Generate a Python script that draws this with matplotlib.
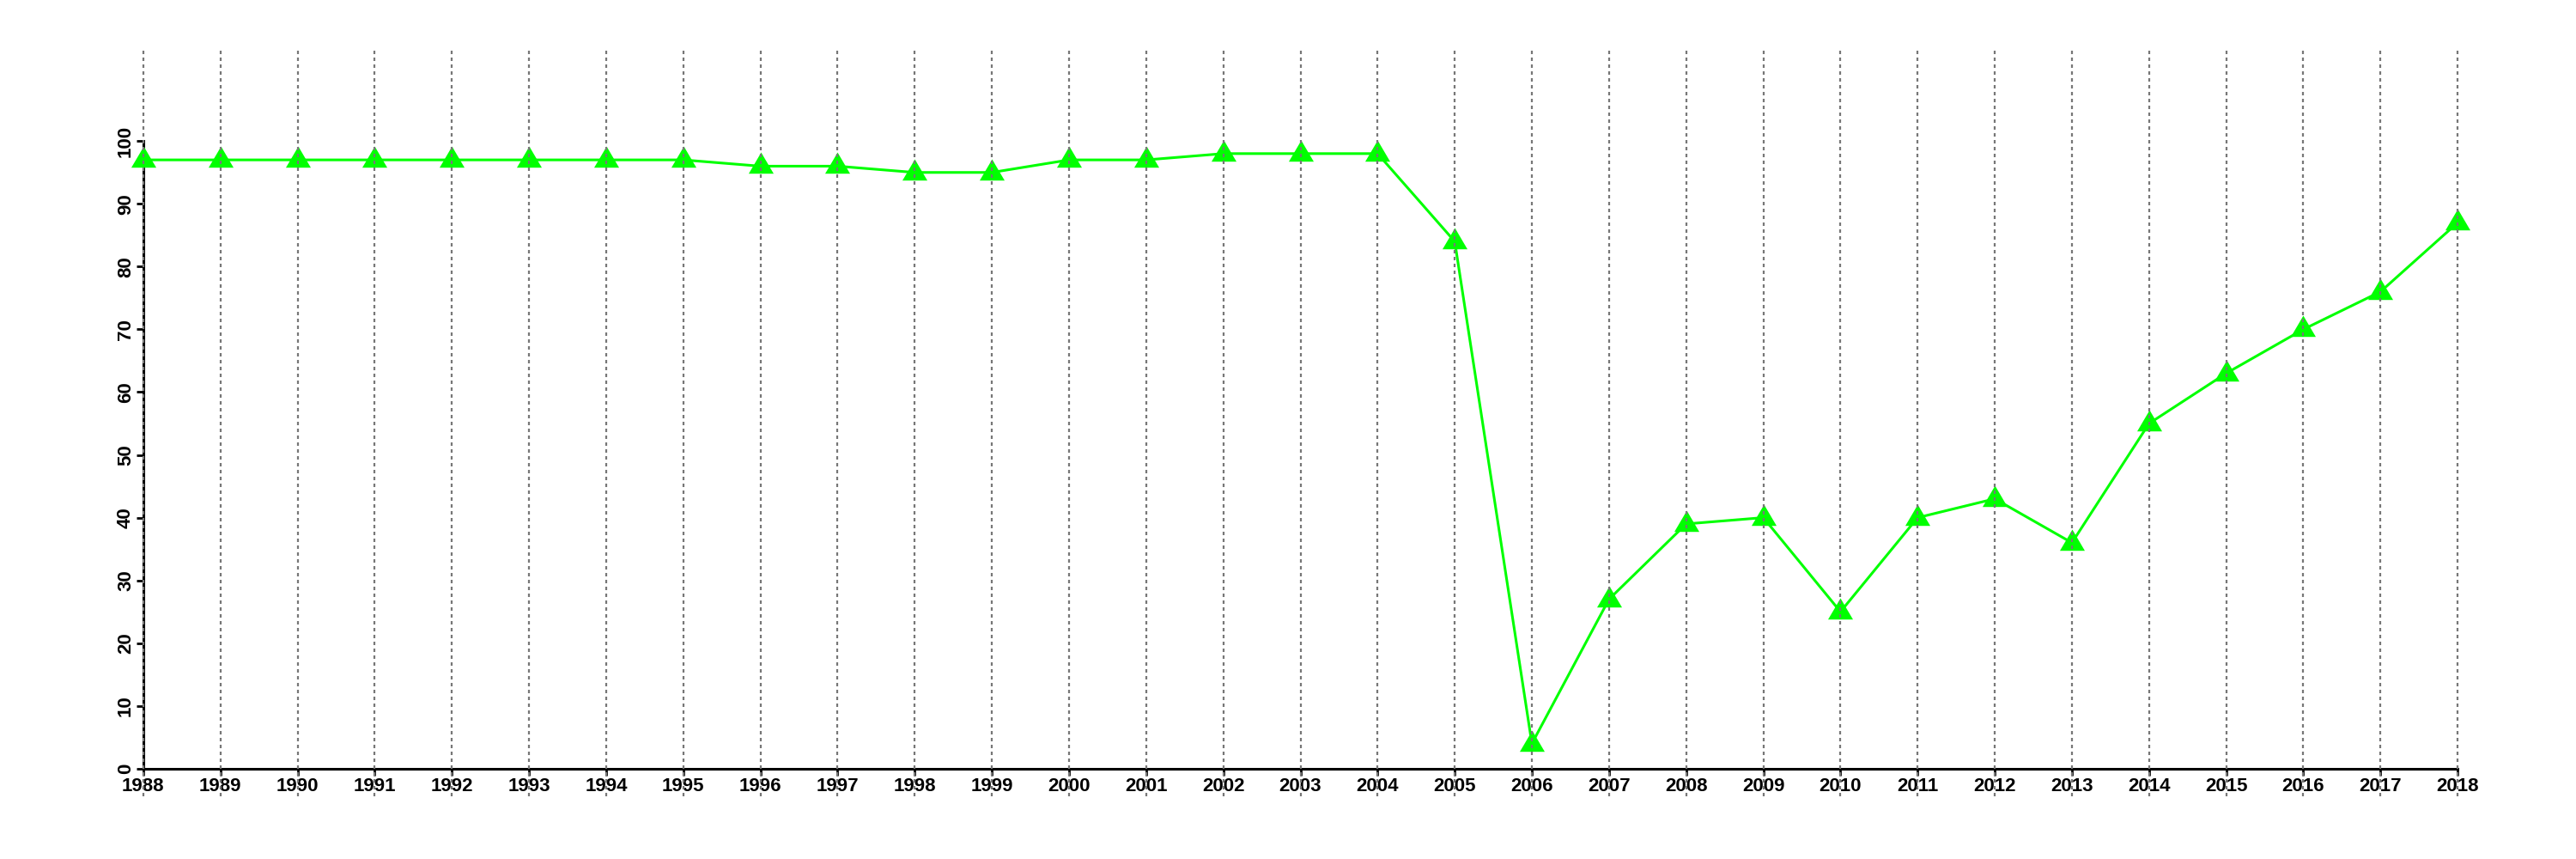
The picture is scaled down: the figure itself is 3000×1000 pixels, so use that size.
import matplotlib
matplotlib.use("Agg")
import matplotlib.pyplot as plt

years = list(range(1988, 2019))
values = [97, 97, 97, 97, 97, 97, 97, 97, 96, 96,
          95, 95, 97, 97, 98, 98, 98, 84, 4, 27,
          39, 40, 25, 40, 43, 36, 55, 63, 70, 76, 87]
yticks = list(range(0, 101, 10))

plt.rcParams['font.family'] = ['Liberation Sans', 'DejaVu Sans']

fig = plt.figure(figsize=(30, 10), dpi=100)
ax = fig.add_axes([59 / 3000, 73 / 1000, 2911 / 3000, 868 / 1000])

# R-like limits: range extended by 4 %
ax.set_xlim(1988 - 1.2, 2018 + 1.2)
ax.set_ylim(-4.4, 114.4)

# vertical dotted lines drawn over the points, as in the original
for yr in years:
    ax.axvline(yr, color='#777777', linestyle=(0, (1.8, 1.8)), linewidth=1.6, zorder=4)

# R style filled triangle (pch 17)
tri = [(-1, -0.6), (1, -0.6), (0, 1.1), (-1, -0.6)]
ax.plot(years, values, color='#00ff00', linewidth=2.2, marker=tri,
        markersize=23, markeredgewidth=0, zorder=3, clip_on=False)

for s in ['top', 'right']:
    ax.spines[s].set_visible(False)
ax.spines['bottom'].set_position(('data', 0))
ax.spines['bottom'].set_bounds(1988, 2018)
ax.spines['left'].set_position(('data', 1988))
ax.spines['left'].set_bounds(0, 100)
for s in ['bottom', 'left']:
    ax.spines[s].set_linewidth(2.2)
    ax.spines[s].set_zorder(2)

ax.set_xticks(years)
ax.set_xticklabels([str(y) for y in years])
ax.set_yticks(yticks)
ax.set_yticklabels([str(v) for v in yticks], rotation=90, va='center')
ax.tick_params(axis='both', length=6, width=2, labelsize=16, pad=1)
for lab in ax.get_xticklabels() + ax.get_yticklabels():
    lab.set_fontweight('bold')

fig.savefig('out.png', dpi=100, facecolor='white')
